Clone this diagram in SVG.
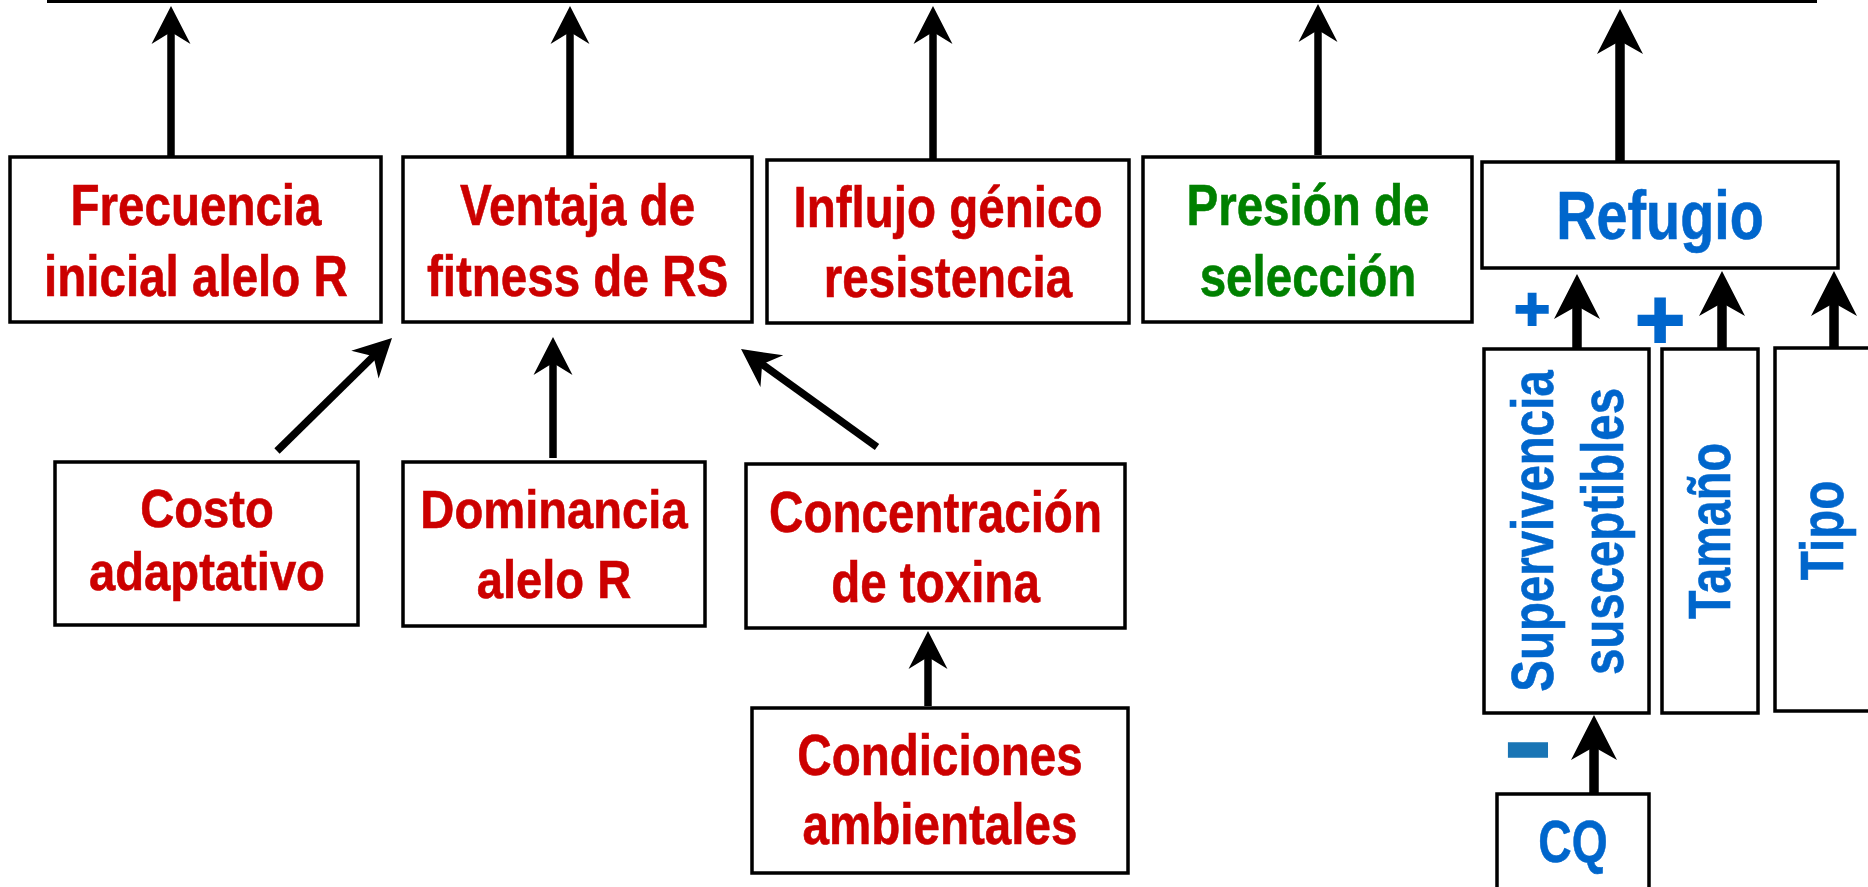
<svg xmlns="http://www.w3.org/2000/svg" width="1868" height="887" viewBox="0 0 1868 887">
<style>
.box{fill:#fff;stroke:#000;stroke-width:3.5}
.t{font-family:"Liberation Sans",Arial,sans-serif;font-weight:bold;text-anchor:middle;stroke-width:0.6}
.red{fill:#cc0000;stroke:#cc0000}
.green{fill:#008000;stroke:#008000}
.blue{fill:#0066cc;stroke:#0066cc}
.sign{font-family:"Liberation Sans",Arial,sans-serif;font-weight:bold;text-anchor:middle;fill:#0066cc;stroke:#0066cc;stroke-width:2}
.a{stroke:#000;stroke-width:7.5;fill:none;marker-end:url(#ha)}
.b{stroke:#000;stroke-width:9.5;fill:none;marker-end:url(#hb)}
</style>
<defs>
<marker id="ha" markerUnits="userSpaceOnUse" markerWidth="40" markerHeight="40" refX="14" refY="20" orient="auto" overflow="visible">
<path d="M38,20 L0,0.5 L12,20 L0,39.5 Z" fill="#000"/>
</marker>
<marker id="hb" markerUnits="userSpaceOnUse" markerWidth="46" markerHeight="46" refX="15" refY="23" orient="auto" overflow="visible">
<path d="M45,23 L0,0 L13,23 L0,46 Z" fill="#000"/>
</marker>
</defs>

<g id="connectors">
<line x1="47" y1="1.5" x2="1817" y2="1.5" stroke="#000" stroke-width="3"/>
<line class="a" x1="171" y1="157" x2="171" y2="30"/>
<line class="a" x1="570" y1="157" x2="570" y2="30"/>
<line class="a" x1="933" y1="160" x2="933" y2="30"/>
<line class="a" x1="1318" y1="155" x2="1318" y2="28"/>
<line class="b" x1="1620" y1="162" x2="1620" y2="39"/>
<line class="a" x1="277" y1="451" x2="374.9" y2="354.8"/>
<line class="a" x1="553" y1="458" x2="553" y2="361"/>
<line class="a" x1="877" y1="447" x2="760.5" y2="363"/>
<line class="a" x1="928" y1="706" x2="928" y2="655"/>
<line class="b" x1="1577" y1="349" x2="1577" y2="304"/>
<line class="b" x1="1722" y1="349" x2="1722" y2="301"/>
<line class="b" x1="1834" y1="348" x2="1834" y2="301"/>
<line class="b" x1="1594" y1="794" x2="1594" y2="745"/>
</g>

<g id="frecuencia">
<rect class="box" x="10" y="157" width="371" height="165"/>
<text class="t red" font-size="58" transform="translate(196,225) scale(0.82,1)"><tspan x="0" y="0">Frecuencia</tspan><tspan x="0" y="71">inicial alelo R</tspan></text>
</g>
<g id="ventaja">
<rect class="box" x="403" y="157" width="349" height="165"/>
<text class="t red" font-size="58" transform="translate(577.5,225) scale(0.82,1)"><tspan x="0" y="0">Ventaja de</tspan><tspan x="0" y="71">fitness de RS</tspan></text>
</g>
<g id="influjo">
<rect class="box" x="767" y="160" width="362" height="163"/>
<text class="t red" font-size="58" transform="translate(948,227) scale(0.82,1)"><tspan x="0" y="0">Influjo génico</tspan><tspan x="0" y="70">resistencia</tspan></text>
</g>
<g id="presion">
<rect class="box" x="1143" y="157" width="329" height="165"/>
<text class="t green" font-size="58" transform="translate(1308,225) scale(0.82,1)"><tspan x="0" y="0">Presión de</tspan><tspan x="0" y="71">selección</tspan></text>
</g>
<g id="refugio">
<rect class="box" x="1482" y="162" width="356" height="106"/>
<text class="t blue" font-size="68" transform="translate(1660,239) scale(0.82,1)">Refugio</text>
</g>
<g id="costo">
<rect class="box" x="55" y="462" width="303" height="163"/>
<text class="t red" font-size="53" transform="translate(207,527) scale(0.89,1)"><tspan x="0" y="0">Costo</tspan><tspan x="0" y="63">adaptativo</tspan></text>
</g>
<g id="dominancia">
<rect class="box" x="403" y="462" width="302" height="164"/>
<text class="t red" font-size="53" transform="translate(554,528) scale(0.89,1)"><tspan x="0" y="0">Dominancia</tspan><tspan x="0" y="70">alelo R</tspan></text>
</g>
<g id="concentracion">
<rect class="box" x="746" y="464" width="379" height="164"/>
<text class="t red" font-size="58" transform="translate(935.5,532) scale(0.82,1)"><tspan x="0" y="0">Concentración</tspan><tspan x="0" y="70">de toxina</tspan></text>
</g>
<g id="condiciones">
<rect class="box" x="752" y="708" width="376" height="165"/>
<text class="t red" font-size="58" transform="translate(940,775) scale(0.82,1)"><tspan x="0" y="0">Condiciones</tspan><tspan x="0" y="69">ambientales</tspan></text>
</g>
<g id="supervivencia">
<rect class="box" x="1484" y="349" width="165" height="364"/>
<text class="t blue" font-size="60" transform="translate(1553,531) rotate(-90) scale(0.79,1)">Supervivencia</text>
<text class="t blue" font-size="60" transform="translate(1623,531.5) rotate(-90) scale(0.79,1)">susceptibles</text>
</g>
<g id="tamano">
<rect class="box" x="1662" y="349" width="96" height="364"/>
<text class="t blue" font-size="60" transform="translate(1730,531) rotate(-90) scale(0.78,1)">Tamaño</text>
</g>
<g id="tipo">
<rect class="box" x="1775" y="348" width="110" height="363"/>
<text class="t blue" font-size="61" transform="translate(1843,530.5) rotate(-90) scale(0.78,1)">Tipo</text>
</g>
<g id="cq">
<rect class="box" x="1497" y="794" width="152" height="110"/>
<text class="t blue" font-size="60" transform="translate(1573,862) scale(0.77,1)">CQ</text>
</g>
<g id="signs">
<text class="sign" font-size="62" x="1532" y="330">+</text>
<text class="sign" font-size="86" x="1660" y="349">+</text>
<text class="sign" font-size="76" style="fill:#1a75b5;stroke:#1a75b5" transform="translate(1528,751.5) scale(1,1.5)" x="0" y="24">−</text>
</g>
</svg>
